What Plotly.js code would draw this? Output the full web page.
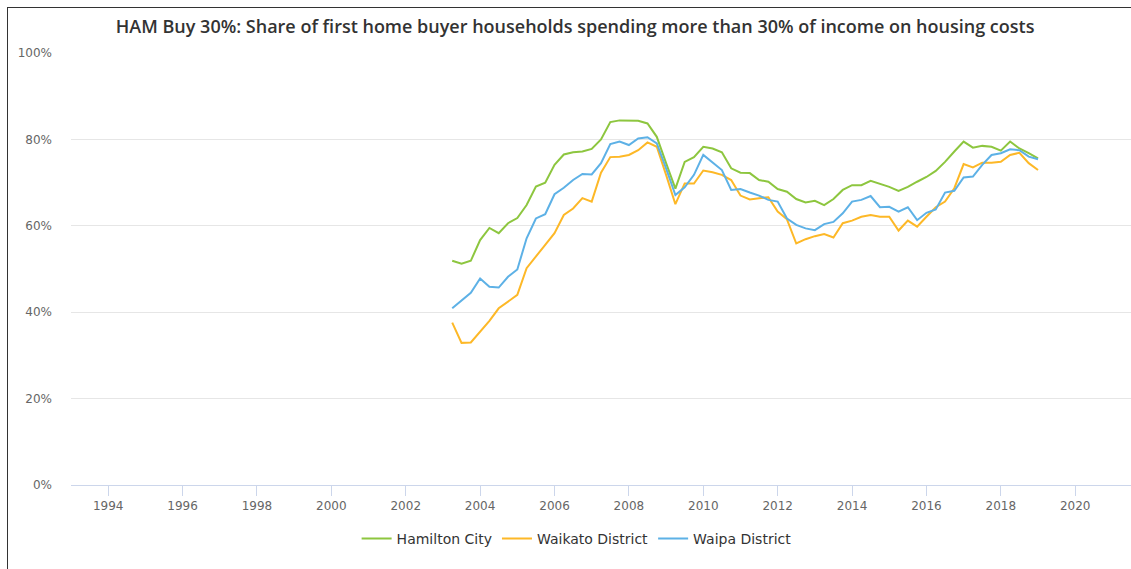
<!DOCTYPE html>
<html>
<head>
<meta charset="utf-8">
<script src="https://cdn.plot.ly/plotly-3.0.1.min.js"></script>
<style>
  html, body { margin: 0; padding: 0; background: #fff; overflow: hidden; }
  #chart { position: absolute; left: 7px; top: 7px; width: 1124px; height: 562px;
           border-left: 1px solid #333; border-top: 1px solid #333; box-sizing: border-box; }
</style>
</head>
<body>
<div id="chart"></div>
<script>
// Quarterly observations, 2003 Q1 to 2018 Q4 (x = decimal year at quarter end)
const startYear = 2003.25;
const hamiltonCity = [51.9, 51.2, 51.9, 56.7, 59.5, 58.3, 60.6, 61.8, 64.8, 69.1,
  70.0, 74.1, 76.5, 77.0, 77.2, 77.8, 80.0, 84.0, 84.4, 84.3,
  84.3, 83.7, 80.6, 74.5, 68.6, 74.8, 75.9, 78.3, 77.9, 77.0,
  73.3, 72.3, 72.2, 70.6, 70.2, 68.5, 67.9, 66.2, 65.4, 65.8,
  64.8, 66.2, 68.3, 69.4, 69.4, 70.4, 69.7, 69.0, 68.1, 69.0,
  70.2, 71.3, 72.7, 74.8, 77.2, 79.5, 78.1, 78.5, 78.3, 77.4,
  79.5, 77.9, 76.8, 75.6];
const waikatoDistrict = [37.6, 32.9, 33.0, 35.5, 38.0, 40.9, 42.4, 44.0, 50.2, 52.8,
  55.6, 58.3, 62.5, 64.0, 66.4, 65.6, 72.3, 75.9, 76.0, 76.4,
  77.5, 79.3, 78.3, 71.8, 65.0, 69.8, 69.8, 72.8, 72.4, 71.8,
  70.6, 67.0, 66.1, 66.4, 66.6, 63.3, 61.5, 55.9, 56.9, 57.6,
  58.1, 57.3, 60.6, 61.2, 62.1, 62.5, 62.1, 62.1, 58.9, 61.2,
  59.8, 62.1, 64.3, 65.6, 68.7, 74.3, 73.5, 74.6, 74.6, 74.8,
  76.4, 76.9, 74.5, 72.9];
const waipaDistrict = [40.9, 42.7, 44.5, 47.8, 45.9, 45.7, 48.2, 49.9, 57.1, 61.7,
  62.7, 67.3, 68.8, 70.6, 72.0, 71.9, 74.5, 78.9, 79.5, 78.7,
  80.2, 80.5, 79.1, 73.3, 67.1, 68.9, 71.8, 76.4, 74.6, 72.9,
  68.3, 68.5, 67.7, 67.0, 66.0, 65.6, 61.7, 60.2, 59.4, 59.0,
  60.4, 60.9, 62.9, 65.6, 66.0, 66.9, 64.3, 64.4, 63.3, 64.3,
  61.3, 63.0, 63.8, 67.7, 68.1, 71.2, 71.4, 74.1, 76.4, 76.8,
  77.7, 77.5, 76.0, 75.4];
const seriesNames = ["Hamilton City", "Waikato District", "Waipa District"];
const xTickVals = [1994, 1996, 1998, 2000, 2002, 2004, 2006, 2008, 2010, 2012, 2014, 2016, 2018, 2020];
const yTickVals = [0, 20, 40, 60, 80, 100];
const yTickText = ["0%", "20%", "40%", "60%", "80%", "100%"];

const years = hamiltonCity.map((_, i) => startYear + i * 0.25);
const colors = ["#8DC63F", "#FDB827", "#5DB1E6"];
const data = [hamiltonCity, waikatoDistrict, waipaDistrict].map((vals, k) => ({
  type: "scatter", mode: "lines", name: seriesNames[k], x: years, y: vals,
  line: { color: colors[k], width: 2 }, hoverinfo: "x+y+name"
}));

const layout = {
  width: 1123, height: 561,
  margin: { l: 63, r: 0, t: 45, b: 84 },
  paper_bgcolor: "#fff", plot_bgcolor: "#fff",
  font: { family: "DejaVu Sans, sans-serif", color: "#666" },
  title: {
    text: "HAM Buy 30%: Share of first home buyer households spending more than 30% of income on housing costs",
    font: { family: "Open Sans, sans-serif", size: 18, color: "#333", weight: 600 },
    x: 0.505, xanchor: "center", xref: "container",
    y: 1 - 19 / 561, yanchor: "middle", yref: "container"
  },
  xaxis: {
    range: [1993, 2021.5], tickvals: xTickVals, ticktext: xTickVals.map(String),
    showgrid: false, zeroline: false, showline: true, linecolor: "#ccd6eb", linewidth: 1,
    ticks: "outside", ticklen: 10, tickcolor: "#ccd6eb", tickwidth: 1,
    tickfont: { family: "DejaVu Sans, sans-serif", size: 12, color: "#666" }
  },
  yaxis: {
    range: [0, 100], tickvals: yTickVals, ticktext: yTickText,
    showgrid: true, gridcolor: "#e6e6e6", gridwidth: 1, zeroline: false, showline: false,
    tickfont: { family: "DejaVu Sans, sans-serif", size: 12, color: "#666" }, ticklabelstandoff: 18
  },
  showlegend: true,
  legend: {
    orientation: "h", x: 0.477, xanchor: "center", y: (561 - (539 - 8)) / 561, yanchor: "middle",
    yref: "container", font: { family: "DejaVu Sans, sans-serif", size: 14, color: "#333" },
    itemwidth: 30, traceorder: "normal"
  }
};

Plotly.newPlot("chart", data, layout, { displayModeBar: false, responsive: false });
</script>
</body>
</html>
